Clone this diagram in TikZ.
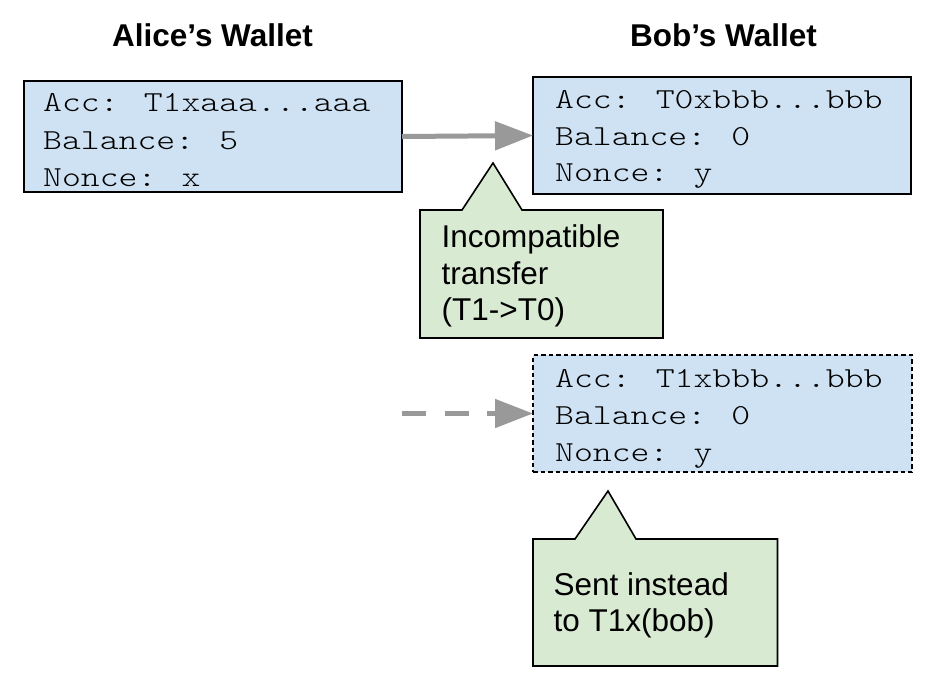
\documentclass[tikz,border=0pt]{standalone}
\usepackage{fontspec}
\setmainfont{Liberation Sans}
\newfontfamily\lmstretchmono{lmmonolt10-regular}[Extension=.otf, FakeStretch=1.24]
\usetikzlibrary{arrows.meta}
\definecolor{walletblue}{HTML}{CFE2F3}
\definecolor{notegreen}{HTML}{D9EAD3}
\definecolor{arrowgray}{HTML}{999999}
\newcommand{\monoface}{\lmstretchmono\fontsize{29}{37}\selectfont}
\tikzset{
  walletbox/.style={draw=black, line width=1.6pt, fill=walletblue, rectangle, inner sep=0pt, outer sep=0pt},
  monoline/.style={anchor=base west, inner sep=0pt, font=\monoface},
  noteline/.style={anchor=base west, inner sep=0pt, font=\fontsize{31.5}{36.5}\selectfont},
  titletext/.style={anchor=base, inner sep=0pt, font=\bfseries\fontsize{31.5}{36}\selectfont},
  notebox/.style={draw=black, line width=1.6pt, fill=notegreen, line join=miter},
  flowarrow/.style={draw=arrowgray, line width=5pt, -{Triangle[length=38pt,width=28pt]}}
}
\begin{document}
\begin{tikzpicture}[x=1pt,y=-1pt]
\useasboundingbox (0,0) rectangle (940,686);
% titles
\node[titletext] (talice) at (212.5,46) {Alice’s Wallet};
\node[titletext] (tbob) at (723.5,46) {Bob’s Wallet};
% wallet boxes
\node[walletbox, minimum width=378pt, minimum height=111pt] (alice) at (213,136.5) {};
\node[walletbox, minimum width=378pt, minimum height=117pt] (bob) at (722,135.5) {};
\node[walletbox, dash pattern=on 4.5pt off 3pt, minimum width=379pt, minimum height=117pt] (bobalt) at (722.5,413.5) {};
% wallet texts
\node[monoline] (a1) at (43,111.5) {Acc: T1xaaa...aaa};
\node[monoline] (a2) at (43,149) {Balance: 5};
\node[monoline] (a3) at (43,186.5) {Nonce: x};
\node[monoline] (b1) at (555,108) {Acc: T0xbbb...bbb};
\node[monoline] (b2) at (555,145) {Balance: 0};
\node[monoline] (b3) at (555,181.5) {Nonce: y};
\node[monoline] (c1) at (555,387) {Acc: T1xbbb...bbb};
\node[monoline] (c2) at (555,424.5) {Balance: 0};
\node[monoline] (c3) at (555,461.5) {Nonce: y};
% arrows
\draw[flowarrow] (alice.east) -- (bob.west);
\coordinate (dstart) at (402,413.5);
\draw[flowarrow, dash pattern=on 24pt off 18.5pt] (dstart) -- (bobalt.west);
% callout 1
\draw[notebox] (420,210) -- (462,210) -- (493,163) -- (522,210) -- (663,210) -- (663,338) -- (420,338) -- cycle;
\node[noteline] (n1) at (441.5,247.5) {Incompatible};
\node[noteline] (n2) at (441.5,284.5) {transfer};
\node[noteline] (n3) at (441.5,320.5) {(T1->T0)};
% callout 2
\draw[notebox] (533,539) -- (575,539) -- (608,491) -- (636,539) -- (777.5,539) -- (777.5,666) -- (533,666) -- cycle;
\node[noteline] (m1) at (553.5,595) {Sent instead};
\node[noteline] (m2) at (553.5,631.5) {to T1x(bob)};
\end{tikzpicture}
\end{document}
